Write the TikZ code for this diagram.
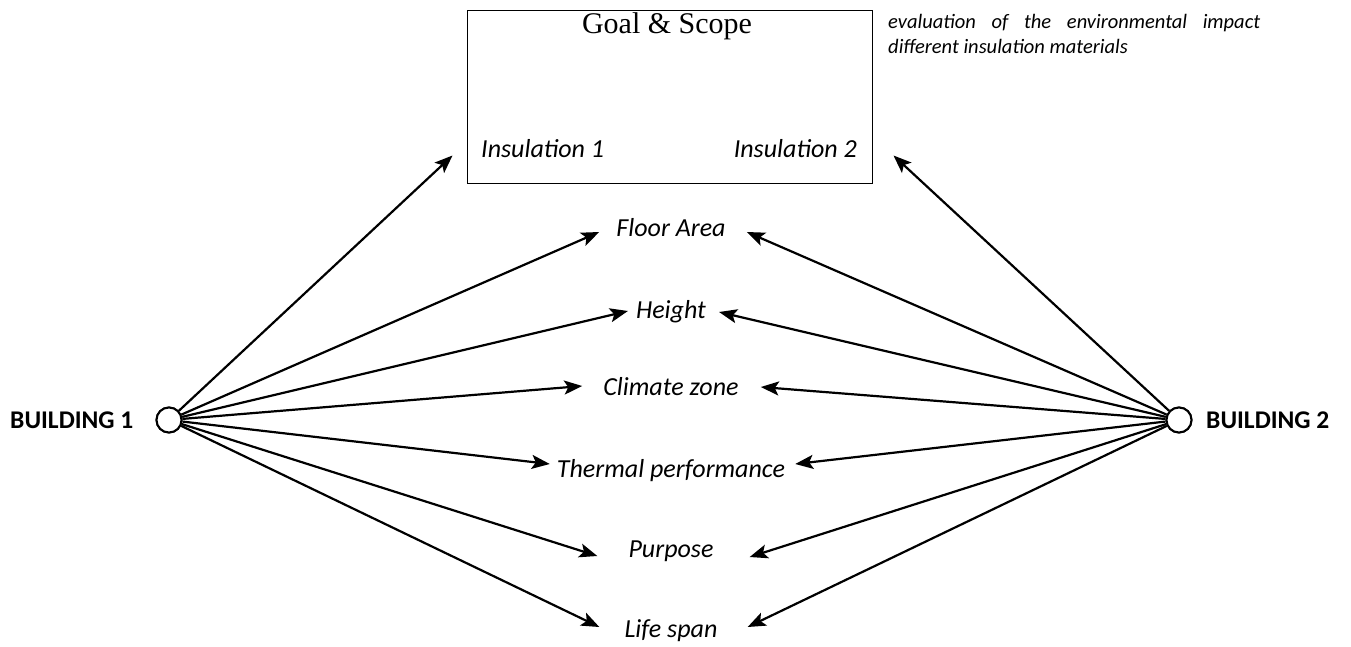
\documentclass[tikz,border=0pt]{standalone}
\usepackage{fontspec}
\setmainfont{Carlito}
\newfontfamily\titlefont{Liberation Serif}
\usetikzlibrary{arrows.meta}

\tikzset{
  hub/.style={circle, draw, line width=2pt, minimum size=25pt, inner sep=0pt, fill=white},
  bldlabel/.style={font=\fontsize{25.5pt}{30pt}\selectfont\bfseries, inner sep=0pt},
  factor/.style={font=\fontsize{26pt}{30pt}\selectfont\itshape, inner sep=0pt, anchor=base},
  insul/.style={font=\fontsize{26pt}{30pt}\selectfont\itshape, inner sep=0pt},
  link/.style={line width=2.2pt, -{Stealth[length=18pt,width=14pt,inset=4pt]}},
  scopebox/.style={draw, line width=1pt, minimum width=405pt, minimum height=173pt, inner sep=0pt},
}

\begin{document}
\begin{tikzpicture}[x=1pt,y=-1pt]
  \useasboundingbox (0,0) rectangle (1351,646);

  % goal and scope frame
  \node[scopebox] (gs) at (669.5,96.5) {};
  \node[font=\fontsize{30pt}{34pt}\titlefont, inner sep=0pt, anchor=base] (title) at (667,33) {Goal \& Scope};
  \node[insul, anchor=base west] (ins1) at (481,157) {Insulation 1};
  \node[insul, anchor=base east] (ins2) at (857,157) {Insulation 2};

  % note beside the frame
  \node[inner sep=0pt, anchor=north west, text width=372pt, align=justify,
        font=\fontsize{20.5pt}{25pt}\selectfont\itshape] (note) at (888,14)
    {evaluation of the environmental impact\linebreak different insulation materials};

  % the two buildings
  \node[hub] (b1) at (169,420) {};
  \node[hub] (b2) at (1179,420) {};
  \node[bldlabel, anchor=base west] (l1) at (10,428) {BUILDING 1};
  \node[bldlabel, anchor=base west] (l2) at (1206,428) {BUILDING 2};

  % shared factors
  \node[factor] (fa) at (671,236) {Floor Area};
  \node[factor] (he) at (671,318) {Height};
  \node[factor] (cz) at (671,395) {Climate zone};
  \node[factor] (tp) at (671,477) {Thermal performance};
  \node[factor] (pu) at (671,557) {Purpose};
  \node[factor] (ls) at (671,637) {Life span};

  % connectors from building 1
  \draw[link] (b1) -- ([xshift=-14pt,yshift=28pt]gs.south west);
  \draw[link] (b1) -- ([xshift=-17pt,yshift=4pt]fa.base west);
  \draw[link] (b1) -- ([xshift=-8pt,yshift=7pt]he.base west);
  \draw[link] (b1) -- ([xshift=-21pt,yshift=9pt]cz.base west);
  \draw[link] (b1) -- ([xshift=-7pt,yshift=13pt]tp.base west);
  \draw[link] (b1) -- ([xshift=-31pt,yshift=1pt]pu.base west);
  \draw[link] (b1) -- ([xshift=-25pt,yshift=10pt]ls.base west);

  % connectors from building 2
  \draw[link] (b2) -- ([xshift=21pt,yshift=28pt]gs.south east);
  \draw[link] (b2) -- ([xshift=21pt,yshift=4pt]fa.base east);
  \draw[link] (b2) -- ([xshift=13pt,yshift=6pt]he.base east);
  \draw[link] (b2) -- ([xshift=22pt,yshift=8pt]cz.base east);
  \draw[link] (b2) -- ([xshift=10pt,yshift=13pt]tp.base east);
  \draw[link] (b2) -- ([xshift=36pt,yshift=0pt]pu.base east);
  \draw[link] (b2) -- ([xshift=30pt,yshift=10pt]ls.base east);

  % redraw hubs above the line ends
  \node[hub] at (b1) {};
  \node[hub] at (b2) {};
\end{tikzpicture}
\end{document}
